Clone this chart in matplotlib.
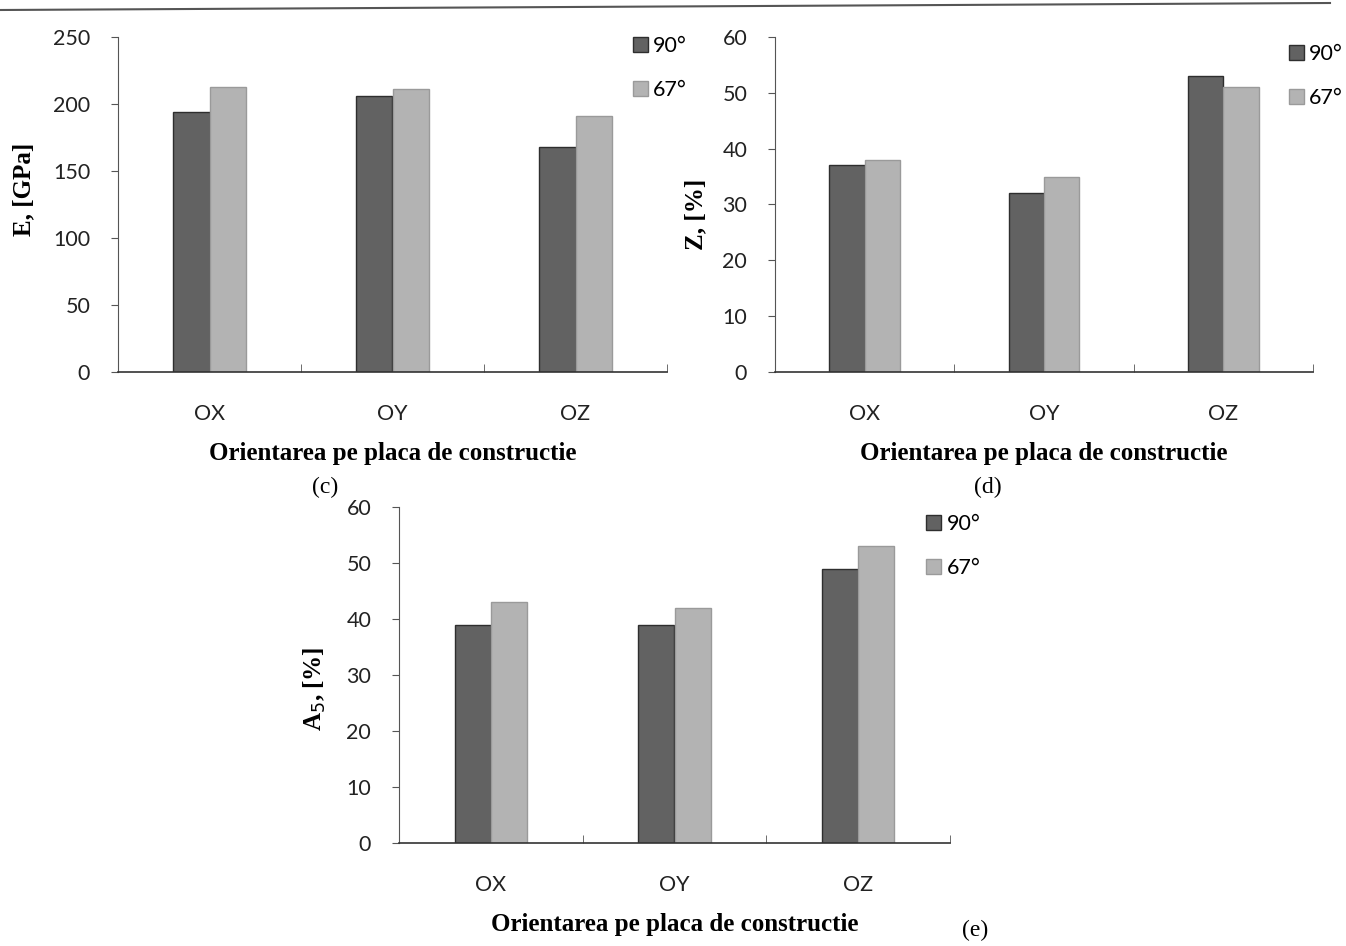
import matplotlib
matplotlib.use("Agg")
import matplotlib.pyplot as plt
from matplotlib.patches import Patch
from matplotlib.lines import Line2D
import numpy as np

categories = ["OX", "OY", "OZ"]
series_labels = ["90°", "67°"]

E_90 = [194, 206, 168]
E_67 = [213, 211, 191]
Z_90 = [37, 32, 53]
Z_67 = [38, 35, 51]
A5_90 = [39, 39, 49]
A5_67 = [43, 42, 53]

DARK = "#626262"
DARK_EDGE = "#2e2e2e"
LIGHT = "#b3b3b3"
LIGHT_EDGE = "#9a9a9a"
SANS = ["Lato", "DejaVu Sans"]
SERIF = ["Liberation Serif", "DejaVu Serif"]

W, H = 1346, 946
fig = plt.figure(figsize=(W / 100, H / 100), dpi=100)


def px_axes(x0, x1, y0, y1):
    # pixel box -> figure fraction
    return fig.add_axes([x0 / W, 1 - y1 / H, (x1 - x0) / W, (y1 - y0) / H])


def bar_panel(ax, v90, v67, ymax, ystep, ylabel, ylab_xy, leg_anchor):
    x = np.arange(len(categories))
    bw = 0.197
    ax.bar(x - bw / 2, v90, bw, color=DARK, edgecolor=DARK_EDGE, linewidth=1.0)
    ax.bar(x + bw / 2, v67, bw, color=LIGHT, edgecolor=LIGHT_EDGE, linewidth=1.0)
    ax.set_xlim(-0.5, len(categories) - 0.5)
    ax.set_ylim(0, ymax)
    ax.set_yticks(np.arange(0, ymax + 1, ystep))
    ax.set_xticks(x)
    ax.set_xticklabels(categories, fontsize=15.5, family=SANS, color="#222222")
    ax.set_xticks(np.arange(len(categories) + 1) - 0.5, minor=True)
    ax.tick_params(axis="x", which="major", length=0, pad=23)
    ax.tick_params(axis="x", which="minor", direction="in", length=6, color="#555555")
    ax.tick_params(axis="y", direction="out", length=5, pad=15, labelsize=15.5,
                   color="#555555", labelcolor="#222222")
    for lab in ax.get_yticklabels():
        lab.set_family(SANS)
    for s in ("top", "right"):
        ax.spines[s].set_visible(False)
    ax.spines["left"].set_color("#555555")
    ax.spines["bottom"].set_color("#333333")
    ax.spines["bottom"].set_linewidth(1.2)
    ax.set_xlabel("Orientarea pe placa de constructie", fontsize=18,
                  fontweight="bold", family=SERIF, labelpad=13)
    ax.set_ylabel(ylabel, fontsize=18, fontweight="bold", family=SERIF)
    ax.yaxis.set_label_coords(*ylab_xy)
    handles = [Patch(facecolor=DARK, edgecolor=DARK_EDGE),
               Patch(facecolor=LIGHT, edgecolor=LIGHT_EDGE)]
    ax.legend(handles, series_labels, loc="upper left", bbox_to_anchor=leg_anchor,
              frameon=False, handlelength=0.7, handleheight=0.7,
              handletextpad=0.25, labelspacing=1.1, borderpad=0,
              prop={"family": SANS, "size": 15.5})


ax_c = px_axes(118, 667, 37, 372)
bar_panel(ax_c, E_90, E_67, 250, 50, "E, [GPa]", (-0.151, 0.546), (0.918, 1.035))

ax_d = px_axes(775, 1313, 37, 372)
bar_panel(ax_d, Z_90, Z_67, 60, 10, "Z, [%]", (-0.125, 0.47), (0.935, 1.01))

ax_e = px_axes(399, 950, 507, 843)
bar_panel(ax_e, A5_90, A5_67, 60, 10, "A$_5$, [%]", (-0.129, 0.46), (0.937, 1.01))

# panel captions
fig.text(325 / W, 1 - 487 / H, "(c)", ha="center", va="center", fontsize=17, family=SERIF)
fig.text(988 / W, 1 - 487 / H, "(d)", ha="center", va="center", fontsize=17, family=SERIF)
fig.text(975 / W, 1 - 930 / H, "(e)", ha="center", va="center", fontsize=17, family=SERIF)

# page rule at the top
fig.add_artist(Line2D([0, 1330 / W], [1 - 10 / H, 1 - 3 / H], color="#555555", lw=1.5))

fig.savefig("out.png", dpi=100, facecolor="white")
